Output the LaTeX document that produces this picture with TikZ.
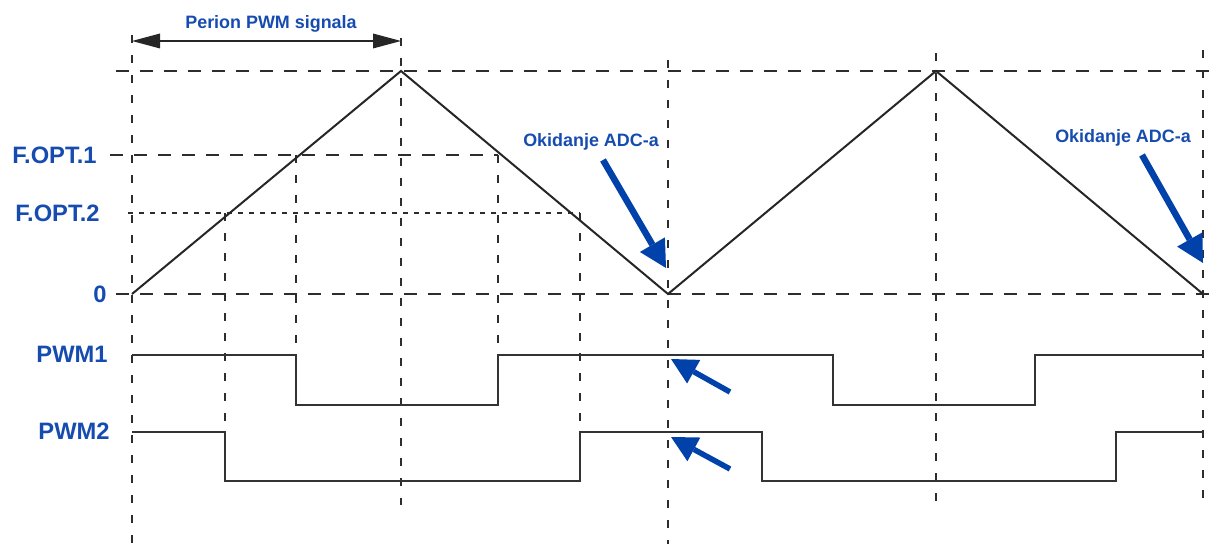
\documentclass[tikz,border=0pt]{standalone}
\usepackage{fontspec}
\setmainfont{Liberation Sans}
\usetikzlibrary{arrows.meta}
\definecolor{lblblue}{RGB}{22,76,176}
\definecolor{adcblue}{RGB}{0,66,170}
\definecolor{guidegray}{RGB}{45,45,45}

\begin{document}
\begin{tikzpicture}[
  x=0.2mm, y=-0.2mm,
  wave/.style={line width=0.4mm, black!85},
  pwm/.style={line width=0.3mm, black!80},
  hguide/.style={line width=0.25mm, guidegray, dash pattern=on 2.6mm off 2.2mm},
  vguide/.style={line width=0.25mm, guidegray, dash pattern=on 1.6mm off 2.4mm},
  fguide/.style={line width=0.25mm, guidegray, dash pattern=on 0.9mm off 1.3mm},
  lvllabel/.style={text=lblblue, font=\fontsize{13.5}{15}\selectfont\bfseries, anchor=east, inner sep=0pt},
  notelabel/.style={text=lblblue, font=\fontsize{10.2}{12}\selectfont\bfseries, anchor=base, inner sep=0pt},
  adcarrow/.style={adcblue, line width=1.3mm, -{Triangle[length=5.4mm, width=5.8mm, line width=0pt]}},
  pwmarrow/.style={adcblue, line width=1.1mm, -{Triangle[length=5.2mm, width=5.4mm, line width=0pt]}},
  periodarrow/.style={black!85, line width=0.4mm, {Triangle[length=5.6mm, width=3mm, line width=0pt]}-{Triangle[length=5.6mm, width=3mm, line width=0pt]}}
]
\useasboundingbox (0,0) rectangle (1214,544);

% key points of the carrier
\coordinate (v0) at (132,294);
\coordinate (p1) at (401,71);
\coordinate (v1) at (668,294);
\coordinate (p2) at (936,71);
\coordinate (v2) at (1203,294);

% guide lines
\draw[hguide] (116,71) -- (1214,71);
\draw[hguide] (116,294) -- (1214,294);
\draw[hguide] (110,155) -- (498,155);
\draw[fguide] (128,213) -- (580,213);
\draw[vguide] (132,35) -- (132,544);
\draw[vguide] (401,38) -- (401,505);
\draw[vguide] (668,60) -- (668,544);
\draw[vguide] (936,53) -- (936,505);
\draw[vguide] (1203,50) -- (1203,505);
\draw[vguide] (225,213) -- (225,432);
\draw[vguide] (296,155) -- (296,405);
\draw[vguide] (498,155) -- (498,405);
\draw[vguide] (580,213) -- (580,432);

% carrier and PWM outputs
\draw[wave] (v0) -- (p1) -- (v1) -- (p2) -- (v2);
\draw[pwm] (132,355) -- (296,355) -- (296,405) -- (498,405) -- (498,355)
  -- (833,355) -- (833,405) -- (1035,405) -- (1035,355) -- (1203,355);
\draw[pwm] (132,432) -- (225,432) -- (225,481) -- (580,481) -- (580,432)
  -- (762,432) -- (762,481) -- (1116,481) -- (1116,432) -- (1203,432);

% labels
\node[lvllabel] (fopt1) at (97,155) {F.OPT.1};
\node[lvllabel] (fopt2) at (100,213) {F.OPT.2};
\node[lvllabel] (zero) at (107,294) {0};
\node[lvllabel] (pwm1) at (108,354) {PWM1};
\node[lvllabel] (pwm2) at (110,431) {PWM2};
\node[notelabel] (period) at (271,29) {Perion PWM signala};
\node[notelabel] (adc1) at (591,147) {Okidanje ADC-a};
\node[notelabel] (adc2) at (1123,143) {Okidanje ADC-a};

% arrows
\coordinate (perL) at (132,41);
\coordinate (perR) at (401,41);
\draw[periodarrow] (perL) -- (perR);

\coordinate (adc1tail) at (603,160);
\coordinate (adc1tip) at (666,268);
\coordinate (adc2tail) at (1142,155);
\coordinate (adc2tip) at (1203,263);
\draw[adcarrow] (adc1tail) -- (adc1tip);
\draw[adcarrow] (adc2tail) -- (adc2tip);

\coordinate (pwm1tail) at (730,392);
\coordinate (pwm1tip) at (671,359);
\coordinate (pwm2tail) at (730,469);
\coordinate (pwm2tip) at (671,437);
\draw[pwmarrow] (pwm1tail) -- (pwm1tip);
\draw[pwmarrow] (pwm2tail) -- (pwm2tip);
\end{tikzpicture}
\end{document}
